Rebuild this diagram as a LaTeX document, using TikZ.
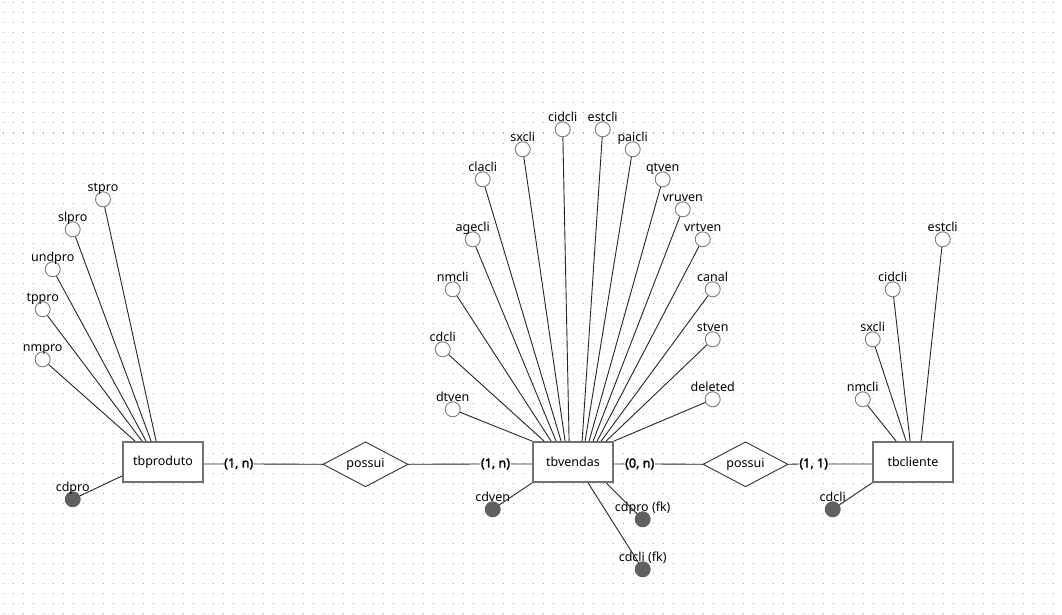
\documentclass[tikz,border=0pt]{standalone}
\usepackage{fontspec}
\setmainfont{Noto Sans}
% heavier face for the cardinality marks
\newfontfamily\cardfont{Noto Sans}[FakeBold=2.2]
\usetikzlibrary{shapes.geometric}
\definecolor{gridgray}{HTML}{ABABAB}
\definecolor{boxgray}{HTML}{727272}
\definecolor{ringgray}{HTML}{7C7C7C}
\definecolor{keygray}{HTML}{606060}
\begin{document}
\begin{tikzpicture}[x=1pt,y=-1pt,
  txt/.style={font=\fontsize{12.5}{15}\selectfont},
  entity/.style={txt, draw=boxgray, line width=1.8pt, fill=white,
    minimum width=80pt, minimum height=40pt, inner sep=0pt},
  relation/.style={txt, diamond, draw=black!80, line width=0.9pt, fill=white,
    minimum width=85pt, minimum height=45pt, aspect=1.9, inner sep=0pt},
  attr/.style={circle, draw=ringgray, line width=0.9pt, fill=white,
    minimum size=15pt, inner sep=0pt, label distance=2.5pt},
  key/.style={attr, draw=keygray, fill=keygray},
  tag/.style={txt, anchor=base, inner sep=0pt},
  card/.style={font=\cardfont\fontsize{12.5}{15}\selectfont, inner sep=0.5pt},
  link/.style={draw=black!85, line width=0.9pt},
]
% canvas and dotted grid
\useasboundingbox[fill=white] (0,0) rectangle (1062,615);
\foreach \r in {0,...,61}
  \draw[gridgray, line width=1pt, dash pattern=on 1pt off 9pt]
    (2.5,{3+10*\r}) -- (1054,{3+10*\r});

% entities
\node[entity] (tbproduto) at (163,462) {tbproduto};
\node[entity] (tbvendas)  at (573,462) {tbvendas};
\node[entity] (tbcliente) at (913,462) {tbcliente};

% relationships and cardinalities
\node[relation] (possuiA) at (365.5,464.3) {possui};
\node[relation] (possuiB) at (745.5,464.3) {possui};
\node[card] (cardA) at (238.7,464) {(1, n)};
\node[card] (cardB) at (495.5,464) {(1, n)};
\node[card] (cardC) at (639.7,464) {(0, n)};
\node[card] (cardD) at (813.7,464) {(1, 1)};
\draw[link] (tbproduto.east |- cardA) -- (cardA.west)
            (cardA.east) -- (possuiA.west)
            (possuiA.east) -- (cardB.west)
            (cardB.east) -- (tbvendas.west |- cardB);
\draw[link] (tbvendas.east |- cardC) -- (cardC.west)
            (cardC.east) -- (possuiB.west)
            (possuiB.east) -- (cardD.west)
            (cardD.east) -- (tbcliente.west |- cardD);

% tbproduto attributes
\node[attr, label={[tag]above:stpro}]  (stpro)  at (103,199.3) {};
\node[attr, label={[tag]above:slpro}]  (slpro)  at (72.7,229.3) {};
\node[attr, label={[tag]above:undpro}] (undpro) at (52.7,269.3) {};
\node[attr, label={[tag]above:tppro}]  (tppro)  at (42.7,309.3) {};
\node[attr, label={[tag]above:nmpro}]  (nmpro)  at (42.7,359.3) {};
\node[key,  label={[tag]above:cdpro}]  (cdpro)  at (72.7,499.3) {};
\draw[link] (stpro)  -- ([xshift=34pt]tbproduto.north west);
\draw[link] (slpro)  -- ([xshift=29pt]tbproduto.north west);
\draw[link] (undpro) -- ([xshift=24pt]tbproduto.north west);
\draw[link] (tppro)  -- ([xshift=20pt]tbproduto.north west);
\draw[link] (nmpro)  -- ([xshift=13pt]tbproduto.north west);
\draw[link] (cdpro)  -- ([yshift=7pt]tbproduto.south west);

% tbvendas attributes
\node[attr, label={[tag]above:dtven}]   (vdtven)   at (452.7,409.3) {};
\node[attr, label={[tag]above:cdcli}]   (vcdcli)   at (442.7,349.3) {};
\node[attr, label={[tag]above:nmcli}]   (vnmcli)   at (452.7,289.3) {};
\node[attr, label={[tag]above:agecli}]  (vagecli)  at (472.7,239.3) {};
\node[attr, label={[tag]above:clacli}]  (vclacli)  at (482.7,179.3) {};
\node[attr, label={[tag]above:sxcli}]   (vsxcli)   at (522.7,149.3) {};
\node[attr, label={[tag]above:cidcli}]  (vcidcli)  at (562.7,129.3) {};
\node[attr, label={[tag]above:estcli}]  (vestcli)  at (602.7,129.3) {};
\node[attr, label={[tag]above:paicli}]  (vpaicli)  at (632.7,149.3) {};
\node[attr, label={[tag]above:qtven}]   (vqtven)   at (662.7,179.3) {};
\node[attr, label={[tag]above:vruven}]  (vvruven)  at (682.7,209.3) {};
\node[attr, label={[tag]above:vrtven}]  (vvrtven)  at (702.7,239.3) {};
\node[attr, label={[tag]above:canal}]   (vcanal)   at (712.7,289.3) {};
\node[attr, label={[tag]above:stven}]   (vstven)   at (712.7,339.3) {};
\node[attr, label={[tag]above:deleted}] (vdeleted) at (712.7,399.3) {};
\node[key,  label={[tag]above:cdven}]        (vcdven)  at (492.7,509.3) {};
\node[key,  label={[tag]above:cdpro (fk)}]   (vcdprofk) at (642.7,519.3) {};
\node[key,  label={[tag]above:cdcli (fk)}]   (vcdclifk) at (642.7,569.3) {};
\draw[link] (vdtven)   -- (tbvendas.north west);
\draw[link] (vcdcli)   -- ([xshift=12pt]tbvendas.north west);
\draw[link] (vnmcli)   -- ([xshift=19pt]tbvendas.north west);
\draw[link] (vagecli)  -- ([xshift=24pt]tbvendas.north west);
\draw[link] (vclacli)  -- ([xshift=29pt]tbvendas.north west);
\draw[link] (vsxcli)   -- ([xshift=33pt]tbvendas.north west);
\draw[link] (vcidcli)  -- ([xshift=37pt]tbvendas.north west);
\draw[link] (vestcli)  -- ([xshift=50pt]tbvendas.north west);
\draw[link] (vpaicli)  -- ([xshift=53pt]tbvendas.north west);
\draw[link] (vqtven)   -- ([xshift=57pt]tbvendas.north west);
\draw[link] (vvruven)  -- ([xshift=61pt]tbvendas.north west);
\draw[link] (vvrtven)  -- ([xshift=65pt]tbvendas.north west);
\draw[link] (vcanal)   -- ([xshift=69pt]tbvendas.north west);
\draw[link] (vstven)   -- ([xshift=74pt]tbvendas.north west);
\draw[link] (vdeleted) -- (tbvendas.north east);
\draw[link] (vcdven)   -- (tbvendas.south west);
\draw[link] (vcdprofk) -- ([xshift=74pt]tbvendas.south west);
\draw[link] (vcdclifk) -- ([xshift=56pt]tbvendas.south west);

% tbcliente attributes
\node[attr, label={[tag]above:estcli}] (cestcli) at (942.7,239.3) {};
\node[attr, label={[tag]above:cidcli}] (ccidcli) at (892.7,289.3) {};
\node[attr, label={[tag]above:sxcli}]  (csxcli)  at (872.7,339.3) {};
\node[attr, label={[tag]above:nmcli}]  (cnmcli)  at (862.7,399.3) {};
\node[key,  label={[tag]above:cdcli}]  (ccdcli)  at (832.7,509.3) {};
\draw[link] (cestcli) -- ([xshift=49pt]tbcliente.north west);
\draw[link] (ccidcli) -- ([xshift=38pt]tbcliente.north west);
\draw[link] (csxcli)  -- ([xshift=34pt]tbcliente.north west);
\draw[link] (cnmcli)  -- ([xshift=24pt]tbcliente.north west);
\draw[link] (ccdcli)  -- (tbcliente.south west);
\end{tikzpicture}
\end{document}
